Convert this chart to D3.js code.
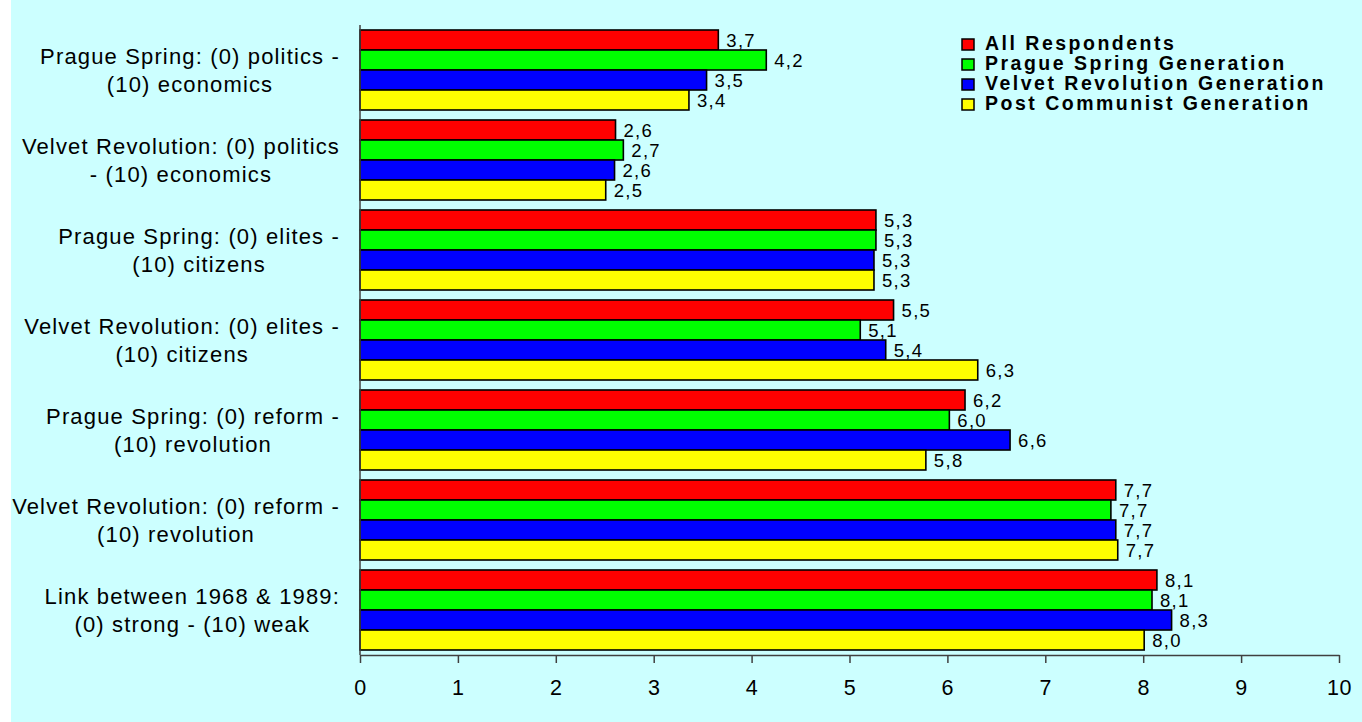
<!DOCTYPE html>
<html>
<head>
<meta charset="utf-8">
<script src="https://cdn.jsdelivr.net/npm/d3@7"></script>
<style>
  html, body { margin: 0; padding: 0; background: #ffffff; }
  svg { display: block; }
  text { font-family: "Liberation Sans", Arial, Helvetica, sans-serif; fill: #000; }
</style>
</head>
<body>
<svg id="chart" width="1362" height="722"></svg>
<script>
// Survey items (each label is split into its printed lines)
const categories = [
  ["Prague Spring: (0) politics -", "(10) economics"],
  ["Velvet Revolution: (0) politics", "- (10) economics"],
  ["Prague Spring: (0) elites -", "(10) citizens"],
  ["Velvet Revolution: (0) elites -", "(10) citizens"],
  ["Prague Spring: (0) reform -", "(10) revolution"],
  ["Velvet Revolution: (0) reform -", "(10) revolution"],
  ["Link between 1968 & 1989:", "(0) strong - (10) weak"]
];

const seriesNames = [
  "All Respondents",
  "Prague Spring Generation",
  "Velvet Revolution Generation",
  "Post Communist Generation"
];

// Mean scores per item (0-10 scale)
const allRespondents      = [3.66, 2.61, 5.27, 5.45, 6.18, 7.72, 8.14];
const pragueSpringGen     = [4.15, 2.69, 5.27, 5.11, 6.02, 7.67, 8.09];
const velvetRevolutionGen = [3.54, 2.60, 5.25, 5.37, 6.64, 7.72, 8.29];
const postCommunistGen    = [3.36, 2.51, 5.25, 6.31, 5.78, 7.74, 8.01];

const xTicks = [0, 1, 2, 3, 4, 5, 6, 7, 8, 9, 10];
const seriesColors = ["#ff0000", "#00ff00", "#0000ff", "#ffff00"];

const seriesValues = [allRespondents, pragueSpringGen, velvetRevolutionGen, postCommunistGen];
const catKeys = categories.map(c => c.join(" "));

const svg = d3.select("#chart");

// backdrop
svg.append("rect")
  .attr("x", 11).attr("y", 0)
  .attr("width", 1351).attr("height", 722)
  .attr("fill", "#ccffff");

const plot = { left: 360, right: 1339, top: 25, bottom: 655 };

const x = d3.scaleLinear().domain([0, 10]).range([plot.left, plot.right]);
const y = d3.scaleBand()
  .domain(catKeys)
  .range([plot.top, plot.bottom])
  .paddingInner(1 / 9)
  .paddingOuter(1 / 18);
const ySub = d3.scaleBand()
  .domain(seriesNames)
  .range([0, y.bandwidth()])
  .padding(0);

const fmt = v => d3.format(".1f")(v).replace(".", ",");

// bars
const groups = svg.append("g").selectAll("g")
  .data(catKeys)
  .join("g")
  .attr("transform", d => `translate(0,${y(d)})`);

groups.each(function (key, ci) {
  const g = d3.select(this);
  const rows = seriesNames.map((name, si) => ({ name, si, v: seriesValues[si][ci] }));
  g.selectAll("rect")
    .data(rows)
    .join("rect")
    .attr("x", x(0))
    .attr("y", d => ySub(d.name))
    .attr("width", d => x(d.v) - x(0))
    .attr("height", ySub.bandwidth())
    .attr("fill", d => seriesColors[d.si])
    .attr("stroke", "#000")
    .attr("stroke-width", 1.6);
  g.selectAll("text.val")
    .data(rows)
    .join("text")
    .attr("class", "val")
    .attr("x", d => x(d.v) + 8)
    .attr("y", d => ySub(d.name) + ySub.bandwidth() / 2)
    .attr("dy", "0.36em")
    .attr("font-size", 18.5)
    .attr("letter-spacing", 1.3)
    .text(d => fmt(d.v));
});

// x axis
const xAxis = d3.axisBottom(x)
  .tickValues(xTicks)
  .tickFormat(d3.format("d"))
  .tickSize(8)
  .tickSizeOuter(0);
const gx = svg.append("g")
  .attr("transform", `translate(0,${plot.bottom})`)
  .call(xAxis);
gx.attr("font-size", null).attr("font-family", null);
gx.select(".domain").attr("stroke", "#404040").attr("stroke-width", 1.5);
gx.selectAll(".tick line").attr("stroke", "#404040").attr("stroke-width", 1.5);
gx.selectAll(".tick text")
  .attr("font-size", 21.5)
  .attr("fill", "#000")
  .attr("y", 40)
  .attr("dy", null)
  .attr("letter-spacing", 0.6);

// y axis line
svg.append("line")
  .attr("x1", plot.left).attr("x2", plot.left)
  .attr("y1", plot.top).attr("y2", plot.bottom)
  .attr("stroke", "#404040")
  .attr("stroke-width", 1.5);

// category labels: block right-aligned, lines centred within block
const labelRight = 340;
const lineGap = 28;
categories.forEach((lines, ci) => {
  const cy = y(catKeys[ci]) + y.bandwidth() / 2;
  const t = svg.append("text")
    .attr("font-size", 22)
    .attr("letter-spacing", 1.15)
    .attr("text-anchor", "middle");
  const spans = lines.map((ln, li) =>
    t.append("tspan")
      .attr("y", cy + (li - (lines.length - 1) / 2) * lineGap)
      .attr("dy", "0.36em")
      .text(ln));
  const w = d3.max(spans, s => s.node().getComputedTextLength());
  spans.forEach(s => s.attr("x", labelRight - w / 2));
});

// legend
const legend = svg.append("g").attr("transform", "translate(962,30)");
seriesNames.forEach((name, si) => {
  const row = legend.append("g").attr("transform", `translate(0,${si * 20})`);
  row.append("rect")
    .attr("x", 0).attr("y", 9)
    .attr("width", 12).attr("height", 11)
    .attr("fill", seriesColors[si])
    .attr("stroke", "#000")
    .attr("stroke-width", 1.5);
  row.append("text")
    .attr("x", 23)
    .attr("y", 20)
    .attr("font-size", 19.5)
    .attr("font-weight", "bold")
    .attr("letter-spacing", 2.5)
    .text(name);
});
</script>
</body>
</html>
